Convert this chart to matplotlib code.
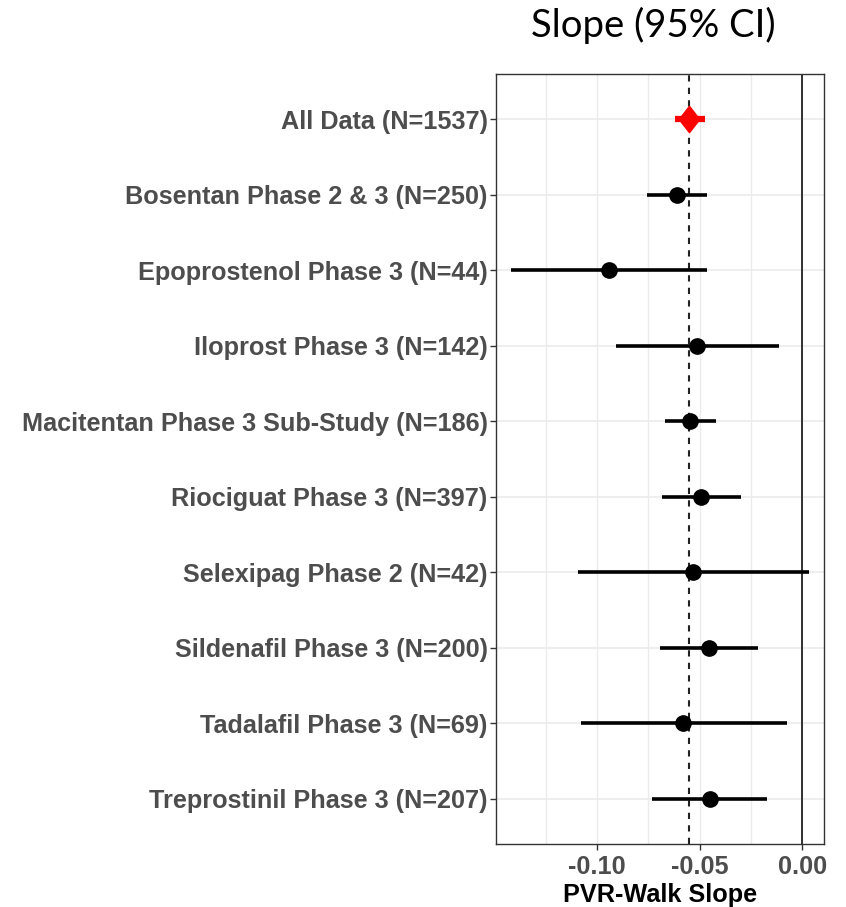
import numpy as np
import matplotlib
matplotlib.use('Agg')
from matplotlib import pyplot as plt
from matplotlib.path import Path

# forest plot data
studies = [
    'All Data (N=1537)',
    'Bosentan Phase 2 & 3 (N=250)',
    'Epoprostenol Phase 3 (N=44)',
    'Iloprost Phase 3 (N=142)',
    'Macitentan Phase 3 Sub-Study (N=186)',
    'Riociguat Phase 3 (N=397)',
    'Selexipag Phase 2 (N=42)',
    'Sildenafil Phase 3 (N=200)',
    'Tadalafil Phase 3 (N=69)',
    'Treprostinil Phase 3 (N=207)',
]
slope = [-0.0549, -0.0608, -0.0942, -0.0511, -0.0547, -0.0494, -0.0534, -0.0456, -0.0579, -0.0450]
lower = [-0.0621, -0.0755, -0.1419, -0.0908, -0.0667, -0.0684, -0.1091, -0.0694, -0.1079, -0.0731]
upper = [-0.0472, -0.0463, -0.0464, -0.0112, -0.0422, -0.0298, 0.0034, -0.0214, -0.0076, -0.0170]
overall = -0.0549
xticks = [-0.10, -0.05, 0.00]
xticks_minor = [-0.125, -0.075, -0.025]

slope = np.array(slope)
lower = np.array(lower)
upper = np.array(upper)
n = len(studies)
ypos = np.arange(n)[::-1]

fig = plt.figure(figsize=(8.46, 9.07), dpi=100)
ax = fig.add_axes([496 / 846, 1 - 844 / 907, 328 / 846, 770 / 907])

grid_col = '#EBEBEB'
for x in xticks + xticks_minor:
    ax.axvline(x, color=grid_col, lw=1.0, zorder=0)
for y in ypos:
    ax.axhline(y, color=grid_col, lw=1.2, zorder=0)

ax.axvline(0, color='#222222', lw=1.3, zorder=1)
ax.axvline(overall, color='#222222', lw=1.5, ls=(0, (3, 3)), zorder=1)

# study rows
for i in range(1, n):
    ax.plot([lower[i], upper[i]], [ypos[i], ypos[i]], color='black', lw=2.6,
            solid_capstyle='butt', zorder=2)
ax.plot(slope[1:], ypos[1:], 'o', color='black', ms=11, zorder=3)

# pooled estimate
diamond = Path([(0, 1), (0.78, 0), (0, -1), (-0.78, 0), (0, 1)],
               [Path.MOVETO, Path.LINETO, Path.LINETO, Path.LINETO, Path.CLOSEPOLY])
ax.plot([lower[0], upper[0]], [ypos[0], ypos[0]], color='#FF0000', lw=4.5,
        solid_capstyle='butt', zorder=2)
ax.plot([slope[0]], [ypos[0]], marker=diamond, color='#FF0000', ms=19, zorder=3)

span = max(upper.max(), 0) - lower.min()
ax.set_xlim(lower.min() - 0.05 * span, max(upper.max(), 0) + 0.05 * span)
ax.set_ylim(-0.6, n - 1 + 0.6)

ax.set_xticks(xticks)
ax.set_xticklabels(['%.2f' % v for v in xticks])
ax.set_yticks(ypos)
ax.set_yticklabels(studies)
ax.tick_params(axis='both', length=4, width=1, color='#333333', labelcolor='#4D4D4D',
               labelsize=18.2, pad=2)
ax.tick_params(axis='x', pad=4)
for lab in ax.get_xticklabels() + ax.get_yticklabels():
    lab.set_fontfamily('Liberation Sans')
    lab.set_fontweight('bold')
ax.set_xlabel('PVR-Walk Slope', fontsize=18.2, fontweight='bold', family='Liberation Sans',
              color='black', labelpad=3)

for sp in ax.spines.values():
    sp.set_color('#333333')
    sp.set_linewidth(1.0)

fig.text(653 / 846, 1 - 25 / 907, 'Slope (95% CI)', ha='center', va='center',
         fontsize=27.5, family='Lato', color='black')

fig.savefig('out.png', dpi=100)
